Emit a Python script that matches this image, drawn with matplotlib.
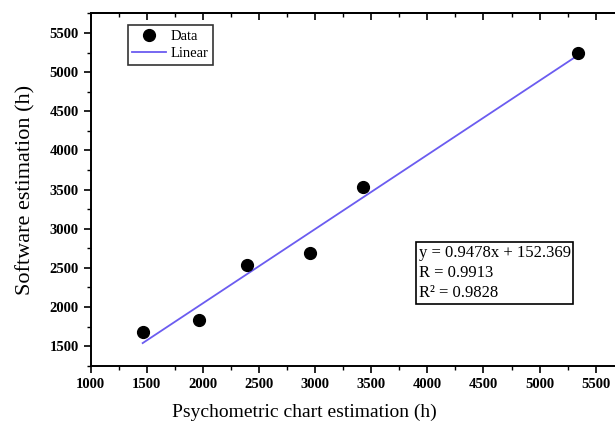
import numpy as np
import matplotlib.pyplot as plt
from matplotlib.ticker import MultipleLocator

# Psychometric chart vs. software estimates (hours)
chart_h = [1463, 1968, 2393, 2957, 3427, 5343]
software_h = [1679, 1834, 2541, 2695, 3529, 5243]

# Linear fit reported on the chart
slope = 0.9478
intercept = 152.369
r_value = 0.9913
r_squared = 0.9828

plt.rcParams['font.family'] = ['Liberation Serif', 'DejaVu Serif']

fig = plt.figure(figsize=(6.15, 4.26), dpi=100)
ax = fig.add_axes([0.1475, 0.1415, 0.8667, 0.827])

ax.plot(chart_h, software_h, 'o', color='black', markersize=8.5, label='Data', zorder=3)
xf = np.array([min(chart_h), max(chart_h)])
ax.plot(xf, slope * xf + intercept, color='#6b5cf0', lw=1.3, label='Linear')

ax.set_xlim(1000, 5750)
ax.set_ylim(1250, 5750)
ax.xaxis.set_major_locator(MultipleLocator(500))
ax.xaxis.set_minor_locator(MultipleLocator(250))
ax.yaxis.set_major_locator(MultipleLocator(500))
ax.yaxis.set_minor_locator(MultipleLocator(250))
ax.set_yticks(np.arange(1500, 5501, 500))

ax.tick_params(which='major', direction='out', length=5, width=1.2, labelsize=10.5)
ax.tick_params(which='minor', direction='out', length=3, width=1)
ax.tick_params(axis='x', which='both', top=False, pad=4)
for lbl in ax.get_xticklabels() + ax.get_yticklabels():
    lbl.set_fontweight('bold')

# top ticks point into the plot
ax2 = ax.secondary_xaxis('top')
ax2.xaxis.set_major_locator(MultipleLocator(500))
ax2.xaxis.set_minor_locator(MultipleLocator(250))
ax2.tick_params(which='major', direction='in', length=5, width=1.2, labeltop=False)
ax2.tick_params(which='minor', direction='in', length=3, width=1)

for s in ax.spines.values():
    s.set_linewidth(1.4)
ax2.spines['top'].set_linewidth(1.4)

ax.set_xlabel('Psychometric chart estimation (h)', fontsize=14)
ax.xaxis.set_label_coords(0.40, -0.108)
ax.set_ylabel('Software estimation (h)', fontsize=16)
ax.yaxis.set_label_coords(-0.104, 0.5)

leg = ax.legend(loc='upper left', bbox_to_anchor=(0.07, 0.967), fontsize=10.5,
                frameon=True, fancybox=False, edgecolor='black',
                handlelength=2.3, handletextpad=0.3, borderpad=0.3,
                labelspacing=0.3, borderaxespad=0)
leg.get_frame().set_linewidth(1.2)

ax.text(0.6155, 0.343,
        'y = %.4fx + %.3f\nR = %.4f\nR² = %.4f' % (slope, intercept, r_value, r_squared),
        transform=ax.transAxes, fontsize=12, va='top', ha='left', linespacing=1.35,
        bbox=dict(boxstyle='square,pad=0.15', fc='white', ec='black', lw=1.2))

fig.savefig('out.png', dpi=100)
